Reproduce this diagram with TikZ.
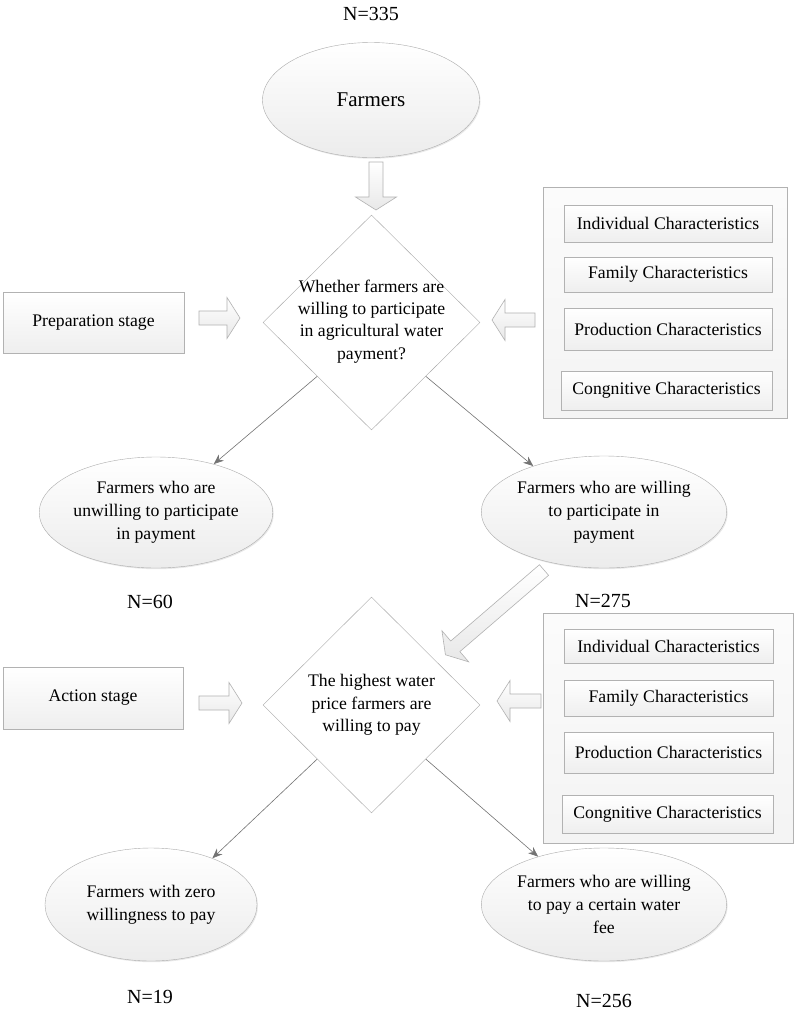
\documentclass[tikz,border=0pt]{standalone}
\usepackage{fontspec}
\setmainfont{Liberation Serif}
\usetikzlibrary{shapes.geometric,arrows.meta,shadows}
\tikzset{
  txt/.style={font=\fontsize{17.7}{22.3}\selectfont, align=center, inner sep=0pt},
  ell/.style={ellipse, draw=gray!65, top color=white, bottom color=gray!15, inner sep=0pt, align=center, font=\fontsize{17.7}{23}\selectfont, drop shadow={shadow xshift=1pt, shadow yshift=-1.2pt, opacity=0.18}},
  box/.style={rectangle, draw=gray!60, top color=white, bottom color=gray!13, inner sep=0pt, align=center, font=\fontsize{17.7}{22}\selectfont, drop shadow={shadow xshift=1.2pt, shadow yshift=-1.2pt, opacity=0.2}},
  grp/.style={rectangle, draw=gray!60, top color=gray!3, bottom color=gray!9, inner sep=0pt, drop shadow={shadow xshift=1.2pt, shadow yshift=-1.2pt, opacity=0.2}},
  dia/.style={diamond, draw=gray!70, fill=white, inner sep=0pt},
  link/.style={draw=gray!90!black, line width=0.6pt, -{Stealth[length=10pt,width=8pt]}},
  barr/.style={draw=gray!60, line width=0.6pt, top color=white, bottom color=gray!18},
  nlab/.style={font=\fontsize{20}{24}\selectfont, inner sep=0pt}
}
\newcommand{\blockarrow}[4]{%
  \begin{scope}[shift={(#1,#2)},rotate=#3]
    \draw[barr] (0,-7) -- ({#4-13},-7) -- ({#4-13},-20.5) -- (#4,0) -- ({#4-13},20.5) -- ({#4-13},7) -- (0,7) -- cycle;
  \end{scope}}
\begin{document}
\begin{tikzpicture}[x=1pt,y=-1pt]
\useasboundingbox (0,0) rectangle (796,1010);
\fill[white] (0,0) rectangle (796,1010);

% top
\node[nlab] (n335) at (371,14) {N=335};
\node[ell, minimum width=217, minimum height=115, font=\fontsize{21}{25}\selectfont] (farmers) at (371,100) {Farmers};
\blockarrow{376}{162}{-90}{48}

% stage 1
\node[box, minimum width=181, minimum height=61] (prep) at (93.5,322.5) {Preparation stage};
\blockarrow{199}{318}{0}{41}
\node[dia, minimum width=217, minimum height=215] (d1) at (371.5,322.5) {};
\node[txt] (d1t) at (371.5,321.5) {Whether farmers are\\willing to participate\\in agricultural water\\payment?};
\blockarrow{535}{320}{180}{43}

\node[grp, minimum width=244, minimum height=231] (g1) at (665,302.5) {};
\node[box, minimum width=208, minimum height=37] (ind1) at (668,223.5) {Individual Characteristics};
\node[box, minimum width=208, minimum height=35] (fam1) at (668,274.5) {Family Characteristics};
\node[box, minimum width=208, minimum height=42] (pro1) at (668,329) {Production Characteristics};
\node[box, minimum width=211, minimum height=39] (con1) at (666.5,390.5) {Congnitive Characteristics};

\node[ell, minimum width=222, minimum height=111] (e1) at (156,512.5) {Farmers who are\\unwilling to participate\\in payment};
\node[ell, minimum width=222, minimum height=112] (e2) at (604,512) {Farmers who are willing\\to participate in\\payment};
\draw[link] (d1.south west) -- (e1.40);
\draw[link] (d1.south east) -- (e2.147);
\node[nlab] (n60) at (150,602) {N=60};
\node[nlab] (n275) at (603,601) {N=275};

% stage 2
\blockarrow{544}{570}{-139.3}{130}
\node[box, minimum width=180, minimum height=62] (act) at (93,698) {Action stage};
\blockarrow{199}{703}{0}{43}
\node[dia, minimum width=217, minimum height=216] (d2) at (371.5,705) {};
\node[txt] (d2t) at (371.5,705) {The highest water\\price farmers are\\willing to pay};
\blockarrow{541}{701}{180}{44}

\node[grp, minimum width=250, minimum height=230] (g2) at (668,728) {};
\node[box, minimum width=209, minimum height=34] (ind2) at (668.5,646) {Individual Characteristics};
\node[box, minimum width=209, minimum height=36] (fam2) at (668.5,698) {Family Characteristics};
\node[box, minimum width=209, minimum height=41] (pro2) at (668.5,752.5) {Production Characteristics};
\node[box, minimum width=211, minimum height=38] (con2) at (667.5,814) {Congnitive Characteristics};

\node[ell, minimum width=212, minimum height=113] (e3) at (151,904.5) {Farmers with zero\\willingness to pay};
\node[ell, minimum width=222, minimum height=113] (e4) at (604,904.5) {Farmers who are willing\\to pay a certain water\\fee};
\draw[link] (d2.south west) -- (e3.37);
\draw[link] (d2.south east) -- (e4.144);
\node[nlab] (n19) at (150,997) {N=19};
\node[nlab] (n256) at (604,1001) {N=256};
\end{tikzpicture}
\end{document}
